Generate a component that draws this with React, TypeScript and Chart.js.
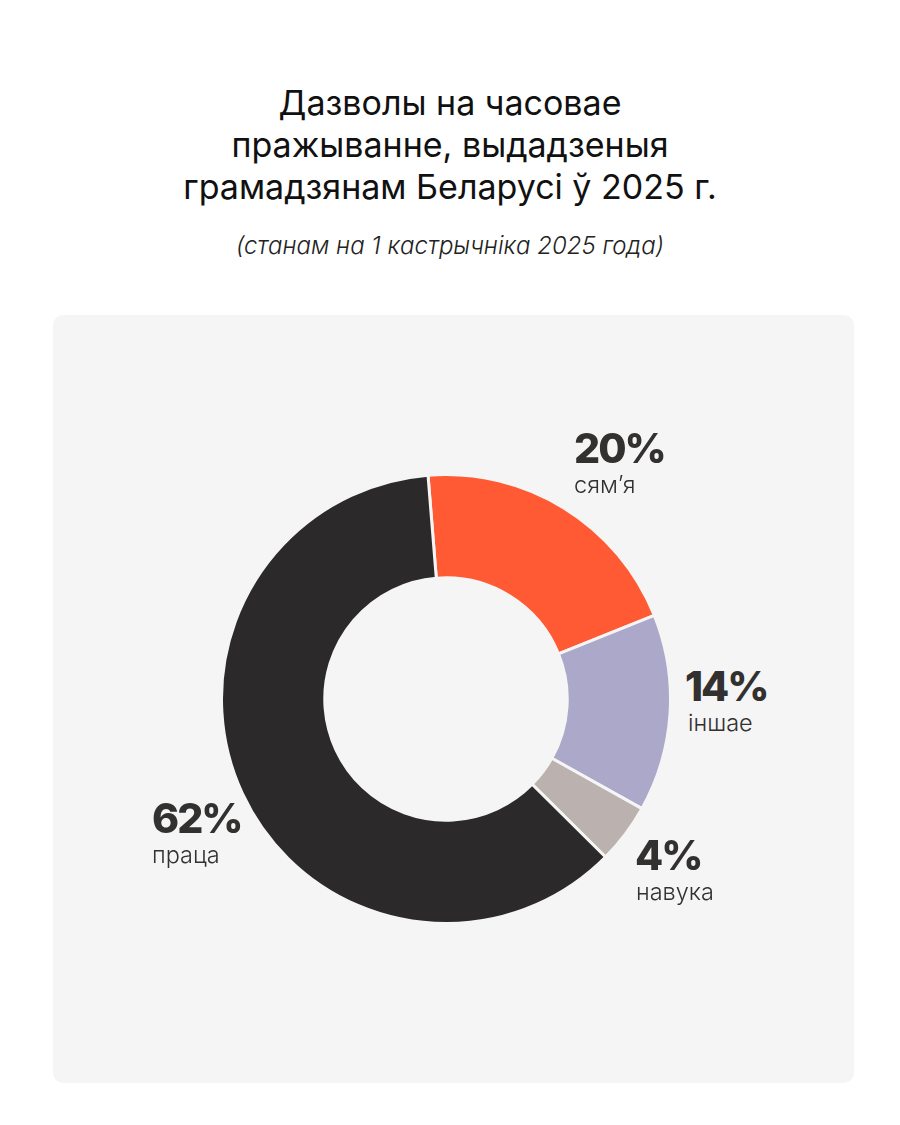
import React, { useEffect, useRef } from 'react';
import Chart from 'chart.js/auto';

const categories = ['сям’я', 'іншае', 'навука', 'праца'];
// arc sizes as measured on the picture, the printed labels are rounded
const shares = [20.2, 14.2, 4.3, 61.3];
const shareLabels = ['20%', '14%', '4%', '62%'];
const colors = ['#ff5a33', '#aca8ca', '#bbb2b0', '#2b2929'];
const titleLines = ['Дазволы на часовае', 'пражыванне, выдадзеныя', 'грамадзянам Беларусі ў 2025 г.'];
const subtitle = '(станам на 1 кастрычніка 2025 года)';

// where each label block sits on the page
const labelLeft = [574, 685, 635, 152];
const labelTop = [424, 662, 831, 794];
const nameShift = [0, 3, 1, 0];

export default function App() {
  const canvasRef = useRef<HTMLCanvasElement | null>(null);

  useEffect(() => {
    document.body.style.margin = '0';
    document.body.style.background = '#fff';
    const ctx = canvasRef.current?.getContext('2d');
    if (!ctx) return;
    const chart = new Chart(ctx, {
      type: 'doughnut',
      data: {
        labels: categories,
        datasets: [
          {
            data: shares,
            backgroundColor: colors,
            borderColor: '#f5f5f5',
            borderWidth: 3,
            borderAlign: 'center',
          },
        ],
      },
      options: {
        responsive: false,
        animation: false,
        rotation: -4.6,
        cutout: '54%',
        layout: { padding: 0 },
        plugins: { legend: { display: false }, tooltip: { enabled: false } },
      },
    });
    return () => chart.destroy();
  }, []);

  return (
    <div style={{ position: 'relative', width: 900, height: 1125, overflow: 'hidden', fontFamily: 'Inter, sans-serif', background: '#fff' }}>
      <div style={{ position: 'absolute', left: 0, right: 0, top: 82, textAlign: 'center', fontSize: 34, lineHeight: '42px', color: '#111' }}>
        {titleLines.map((line) => (
          <div key={line}>{line}</div>
        ))}
      </div>
      <div style={{ position: 'absolute', left: 0, right: 0, top: 232, textAlign: 'center', fontSize: 24, lineHeight: '28px', fontStyle: 'italic', fontWeight: 300, color: '#222' }}>
        {subtitle}
      </div>
      <div style={{ position: 'absolute', left: 53, top: 315, width: 801, height: 768, background: '#f5f5f5', borderRadius: 10 }} />
      <canvas ref={canvasRef} width={452} height={452} style={{ position: 'absolute', left: 220, top: 473, width: 452, height: 452 }} />
      {categories.map((name, i) => (
        <div key={name} style={{ position: 'absolute', left: labelLeft[i], top: labelTop[i], color: '#333030' }}>
          <div style={{ fontSize: 41, lineHeight: '48px', fontWeight: 800, letterSpacing: -2 }}>{shareLabels[i]}</div>
          <div style={{ fontSize: 23.5, lineHeight: '25px', fontWeight: 300, marginLeft: nameShift[i] }}>{name}</div>
        </div>
      ))}
    </div>
  );
}
